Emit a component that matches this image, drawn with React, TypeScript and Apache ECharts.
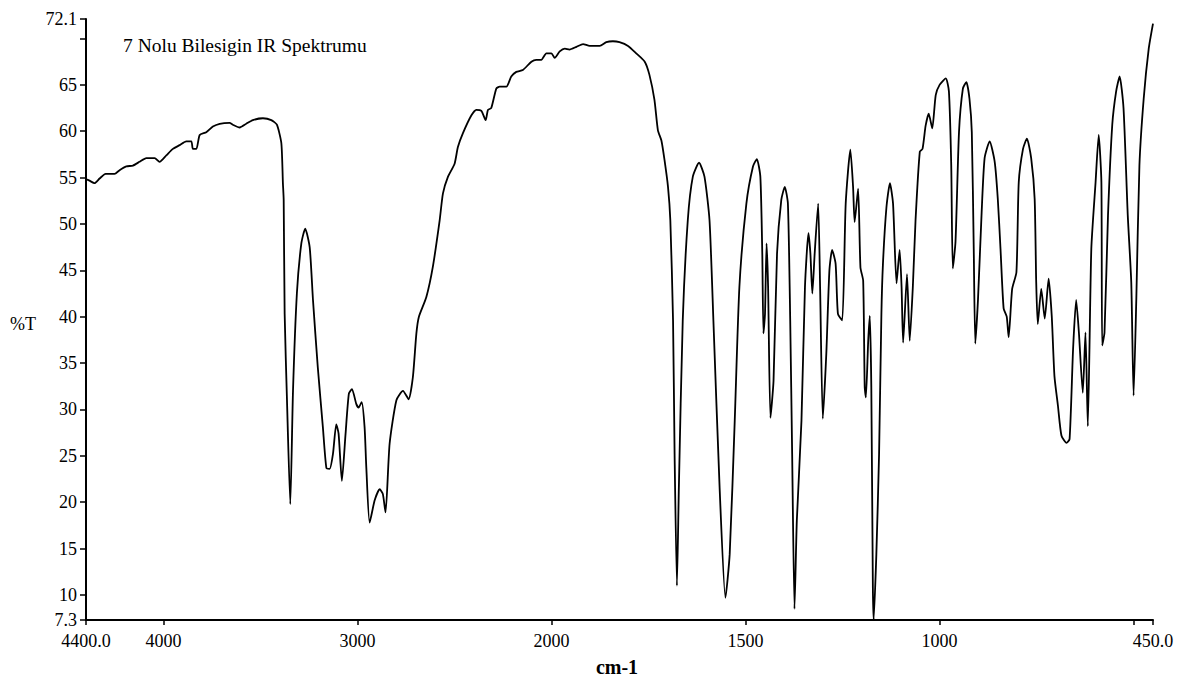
import React, { useEffect, useRef } from "react";
import * as echarts from "echarts";

// IR spectrum readings: [wavenumber (cm-1), %T]
const regionHigh: [number, number][] = [
  [4400, 54.8], [4385, 54.7], [4356, 54.4], [4330, 54.9], [4299, 55.4], [4253, 55.4], [4227, 55.8],
  [4192, 56.2], [4158, 56.3], [4124, 56.7], [4089, 57.1], [4046, 57.1], [4021, 56.7], [3986, 57.4],
  [3952, 58.1], [3917, 58.5], [3883, 58.9], [3857, 58.9], [3849, 58.1], [3831, 58.1], [3814, 59.6],
  [3780, 59.9], [3746, 60.5], [3711, 60.8], [3660, 60.9], [3643, 60.7], [3608, 60.4], [3574, 60.8],
  [3540, 61.2], [3488, 61.4], [3445, 61.2], [3416, 60.7], [3393, 58.7], [3385, 54.4], [3381, 52.6],
  [3376, 40.3], [3364, 31.0], [3347, 19.8], [3333, 32.0], [3313, 42.5], [3290, 47.9], [3270, 49.5],
  [3247, 47.5], [3230, 41.8], [3205, 34.5], [3179, 28.1], [3161, 23.7], [3144, 23.6], [3127, 25.2],
  [3110, 28.4], [3098, 27.4], [3081, 22.3], [3062, 27.4], [3045, 31.7], [3029, 32.2], [3007, 30.6],
  [2995, 30.2], [2979, 30.8], [2964, 28.1], [2955, 23.7], [2938, 17.8], [2912, 20.2], [2886, 21.4],
  [2870, 20.9], [2856, 18.9], [2835, 26.3], [2800, 31.0], [2766, 32.0], [2737, 31.1], [2715, 33.5],
  [2697, 38.2], [2684, 40.0], [2646, 42.1], [2612, 45.4], [2577, 50.4], [2560, 53.3], [2534, 55.1],
  [2500, 56.5], [2483, 58.3], [2457, 59.8], [2414, 61.7], [2388, 62.3], [2362, 62.2], [2340, 61.2],
  [2328, 62.3], [2311, 62.5], [2285, 64.6], [2268, 64.8], [2233, 64.8], [2208, 65.9], [2182, 66.4],
  [2148, 66.6], [2104, 67.5], [2079, 67.7], [2053, 67.7], [2027, 68.4], [2001, 68.4],
];

const regionMid: [number, number][] = [
  [1992, 67.9], [1979, 68.6], [1966, 68.9], [1954, 68.8], [1936, 69.1], [1919, 69.4], [1902, 69.2],
  [1876, 69.2], [1859, 69.6], [1842, 69.7], [1825, 69.6], [1803, 69.2], [1782, 68.4], [1760, 67.5],
  [1748, 66.1], [1735, 63.4], [1726, 60.1], [1717, 59.0], [1709, 56.9], [1700, 54.0], [1694, 50.4],
  [1687, 39.6], [1683, 25.2], [1677, 11.0], [1672, 21.6], [1662, 39.6], [1649, 50.4], [1636, 55.1],
  [1620, 56.6], [1606, 55.1], [1593, 50.4], [1583, 39.6], [1567, 21.6], [1552, 9.7], [1541, 14.4],
  [1528, 28.8], [1516, 43.2], [1498, 52.2], [1481, 56.2], [1471, 57.0], [1462, 55.1], [1457, 46.8],
  [1454, 38.2], [1450, 40.3], [1446, 47.9], [1442, 43.2], [1436, 29.1], [1428, 33.1], [1419, 46.8],
  [1408, 52.6], [1399, 54.0], [1391, 52.2], [1385, 39.6], [1380, 25.2], [1374, 8.5], [1368, 18.0],
  [1356, 28.8], [1347, 43.2], [1338, 49.0], [1333, 46.8], [1328, 42.5], [1322, 46.8], [1313, 52.2],
  [1308, 43.2], [1301, 29.0], [1292, 36.0], [1284, 45.0], [1277, 47.2], [1268, 45.7], [1262, 40.3],
  [1251, 39.6], [1242, 52.2], [1230, 58.0], [1223, 54.0], [1219, 50.2], [1210, 53.8], [1204, 45.3],
  [1197, 43.9], [1193, 32.4], [1190, 31.3], [1184, 37.4], [1180, 40.1], [1176, 32.4], [1172, 10.8],
  [1170, 7.3], [1163, 14.4], [1156, 25.2], [1150, 40.3], [1146, 45.7], [1137, 51.8], [1128, 54.4],
  [1120, 52.2], [1111, 43.6], [1103, 47.2], [1098, 43.2], [1094, 37.2], [1084, 44.6], [1077, 37.4],
  [1069, 43.2], [1062, 50.4], [1051, 57.8], [1044, 58.1], [1036, 60.6], [1028, 61.9], [1019, 60.3],
  [1010, 63.9],
];

const regionLow: [number, number][] = [
  [1000, 65.0], [984, 65.7], [976, 64.3], [970, 56.3], [966, 45.2], [959, 48.1], [950, 59.9],
  [940, 64.6], [931, 65.3], [923, 63.5], [917, 59.9], [912, 47.3], [908, 37.1], [901, 41.9],
  [892, 50.9], [884, 57.1], [871, 58.9], [858, 56.7], [850, 52.7], [843, 47.3], [835, 40.9],
  [827, 40.0], [822, 37.8], [813, 43.0], [802, 44.8], [796, 54.5], [785, 58.1], [775, 59.2],
  [764, 57.1], [755, 52.7], [751, 43.7], [747, 39.2], [738, 43.0], [729, 39.8], [719, 44.1],
  [711, 40.1], [704, 33.6], [695, 30.4], [686, 27.2], [673, 26.4], [665, 26.8], [656, 36.5],
  [648, 41.8], [641, 38.3], [631, 31.8], [624, 38.3], [618, 28.2], [609, 47.3], [598, 54.5],
  [590, 59.6], [583, 54.5], [581, 36.9], [575, 38.3], [566, 50.9], [555, 60.7], [545, 64.3],
  [536, 65.9], [526, 62.5], [515, 50.9], [506, 43.7], [500, 31.5], [493, 41.9], [485, 56.3],
  [474, 63.5], [461, 68.9], [450, 71.6],
];

const xTickValues = [4400, 4000, 3000, 2000, 1500, 1000, 500, 450];
const xLabelValues = [4400, 4000, 3000, 2000, 1500, 1000, 450];
const yTickValues = [7.3, 10, 15, 20, 25, 30, 35, 40, 45, 50, 55, 60, 65, 70, 72.1];
const yLabelValues = [7.3, 10, 15, 20, 25, 30, 35, 40, 45, 50, 55, 60, 65, 72.1];
const X_MIN = 450;
const X_MAX = 4400;
const Y_MIN = 7.3;
const Y_MAX = 72.1;
const titleText = "7 Nolu Bilesigin IR Spektrumu";
const xAxisTitle = "cm-1";
const yAxisTitle = "%T";

// The spectrometer plots 2000-450 cm-1 at twice the scale of 4400-2000 cm-1.
const BREAK = 2000;
const toAxis = (wn: number) => (wn >= BREAK ? wn : 2 * wn - BREAK);
const fromAxis = (t: number) => (t >= BREAK ? t : (t + BREAK) / 2);

const SERIF = "'Liberation Serif', 'Times New Roman', serif";

export default function App() {
  const ref = useRef<HTMLDivElement | null>(null);

  useEffect(() => {
    if (!ref.current) return;
    const chart = echarts.init(ref.current, null, { renderer: "svg" });
    const points = [...regionHigh, ...regionMid, ...regionLow].map(([wn, t]) => [toAxis(wn), t]);

    chart.setOption({
      animation: false,
      backgroundColor: "#ffffff",
      grid: { left: 86, right: 43, top: 19, bottom: 61, containLabel: false },
      xAxis: {
        type: "value",
        min: toAxis(X_MIN),
        max: toAxis(X_MAX),
        inverse: true,
        axisLine: { show: true, onZero: false, lineStyle: { color: "#000", width: 2 } },
        axisTick: {
          show: true,
          customValues: xTickValues.map(toAxis),
          length: 5,
          lineStyle: { color: "#000", width: 1.5 },
        },
        axisLabel: {
          customValues: xLabelValues.map(toAxis),
          formatter: (v: number) => {
            const wn = Math.round(fromAxis(v));
            if (wn === X_MAX || wn === X_MIN) return wn.toFixed(1);
            return String(wn);
          },
          color: "#000",
          fontFamily: SERIF,
          fontSize: 18,
          margin: 12,
        },
        splitLine: { show: false },
      },
      yAxis: {
        type: "value",
        min: Y_MIN,
        max: Y_MAX,
        axisLine: { show: true, onZero: false, lineStyle: { color: "#000", width: 2 } },
        axisTick: {
          show: true,
          customValues: yTickValues,
          length: 6,
          lineStyle: { color: "#000", width: 1.5 },
        },
        axisLabel: {
          customValues: yLabelValues,
          formatter: (v: number) => (Number.isInteger(v) ? String(v) : v.toFixed(1)),
          color: "#000",
          fontFamily: SERIF,
          fontSize: 18,
          margin: 9,
          padding: [0, 0, 7, 0],
        },
        splitLine: { show: false },
      },
      graphic: [
        {
          type: "text",
          left: 123,
          top: 35,
          style: { text: titleText, fill: "#000", font: `19.5px ${SERIF}` },
        },
        {
          type: "text",
          left: 10,
          top: 315,
          style: { text: yAxisTitle, fill: "#000", font: `18px ${SERIF}` },
        },
        {
          type: "text",
          x: 617,
          y: 667,
          style: {
            text: xAxisTitle,
            fill: "#000",
            font: `bold 20px ${SERIF}`,
            align: "center",
            verticalAlign: "middle",
          },
        },
      ],
      series: [
        {
          type: "line",
          data: points,
          showSymbol: false,
          smooth: 0.2,
          clip: true,
          lineStyle: { color: "#000", width: 1.8 },
        },
      ],
    });

    return () => chart.dispose();
  }, []);

  return (
    <div
      ref={ref}
      style={{ position: "fixed", left: 0, top: 0, width: 1196, height: 681, background: "#fff" }}
    />
  );
}
